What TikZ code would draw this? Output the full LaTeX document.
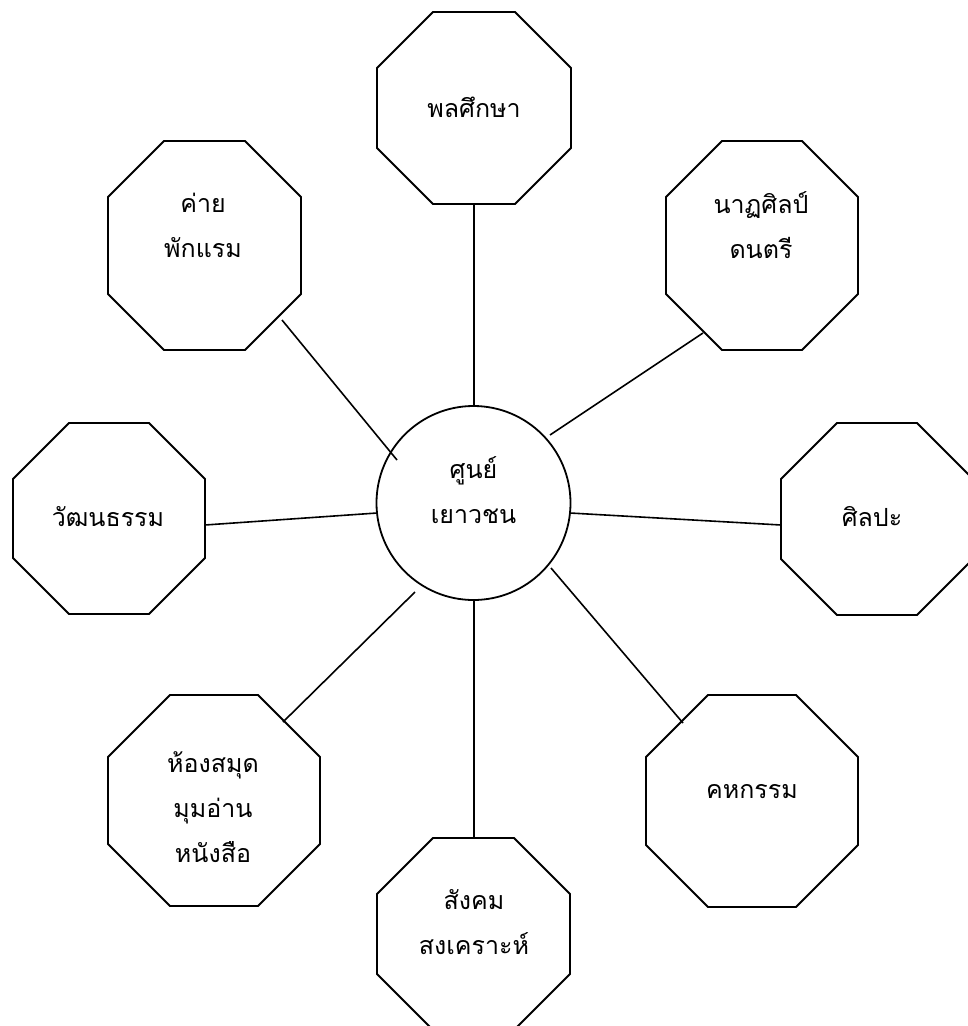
\documentclass[tikz,border=0pt]{standalone}
\usepackage{fontspec}
\newfontfamily\thaifont[Script=Thai]{Loma}
\begin{document}
\begin{tikzpicture}[x=1pt,y=-1pt,
  oct/.style={draw=black,line width=1.8pt,line join=miter},
  link/.style={draw=black,line width=1.6pt},
  lbl/.style={font=\thaifont\fontsize{25}{45}\selectfont,align=center,inner sep=0pt}]
\useasboundingbox (0,0) rectangle (968,1026);
\clip (0,0) rectangle (968,1026);
\newcommand\octagonpath[5]{%
  \draw[oct] (#1+#5,#2) -- (#3-#5,#2) -- (#3,#2+#5) -- (#3,#4-#5) -- (#3-#5,#4)
    -- (#1+#5,#4) -- (#1,#4-#5) -- (#1,#2+#5) -- cycle;}
% octagons
\octagonpath{377}{12}{571}{204}{56}
\octagonpath{108}{141}{301}{350}{56}
\octagonpath{666}{141}{858}{350}{56}
\octagonpath{13}{423}{205}{614}{56}
\octagonpath{781}{423}{973}{615}{56}
\octagonpath{108}{695}{320}{906}{62}
\octagonpath{646}{695}{858}{907}{62}
\octagonpath{377}{838}{570}{1030}{56}
% centre circle
\draw[oct] (473.5,503) circle[radius=97];
% labels
\node[lbl] (centre) at (473.5,490) {ศูนย์\\เยาวชน};
\node[lbl] (pe) at (474,107) {พลศึกษา};
\node[lbl] (camp) at (203,225) {ค่าย\\พักแรม};
\node[lbl] (dance) at (761,225) {นาฏศิลป์\\ดนตรี};
\node[lbl] (culture) at (108,517) {วัฒนธรรม};
\node[lbl] (art) at (872,517) {ศิลปะ};
\node[lbl] (library) at (213,807) {ห้องสมุด\\มุมอ่าน\\หนังสือ};
\node[lbl] (home) at (752,792) {คหกรรม};
\node[lbl] (social) at (474,922) {สังคม\\สงเคราะห์};
% connector end points
\coordinate (pe-e) at (474,204);    \coordinate (c-pe) at (474,407);
\coordinate (camp-e) at (282,320);  \coordinate (c-camp) at (397,460);
\coordinate (dance-e) at (703,333); \coordinate (c-dance) at (550,435);
\coordinate (cult-e) at (205,525);  \coordinate (c-cult) at (377,513);
\coordinate (art-e) at (781,525);   \coordinate (c-art) at (570,513);
\coordinate (lib-e) at (283,722);   \coordinate (c-lib) at (415,592);
\coordinate (home-e) at (683,723);  \coordinate (c-home) at (551,568);
\coordinate (soc-e) at (474,838);   \coordinate (c-soc) at (474,600);
% connectors
\draw[link] (pe-e) -- (c-pe);
\draw[link] (camp-e) -- (c-camp);
\draw[link] (dance-e) -- (c-dance);
\draw[link] (cult-e) -- (c-cult);
\draw[link] (art-e) -- (c-art);
\draw[link] (lib-e) -- (c-lib);
\draw[link] (home-e) -- (c-home);
\draw[link] (soc-e) -- (c-soc);
\end{tikzpicture}
\end{document}
